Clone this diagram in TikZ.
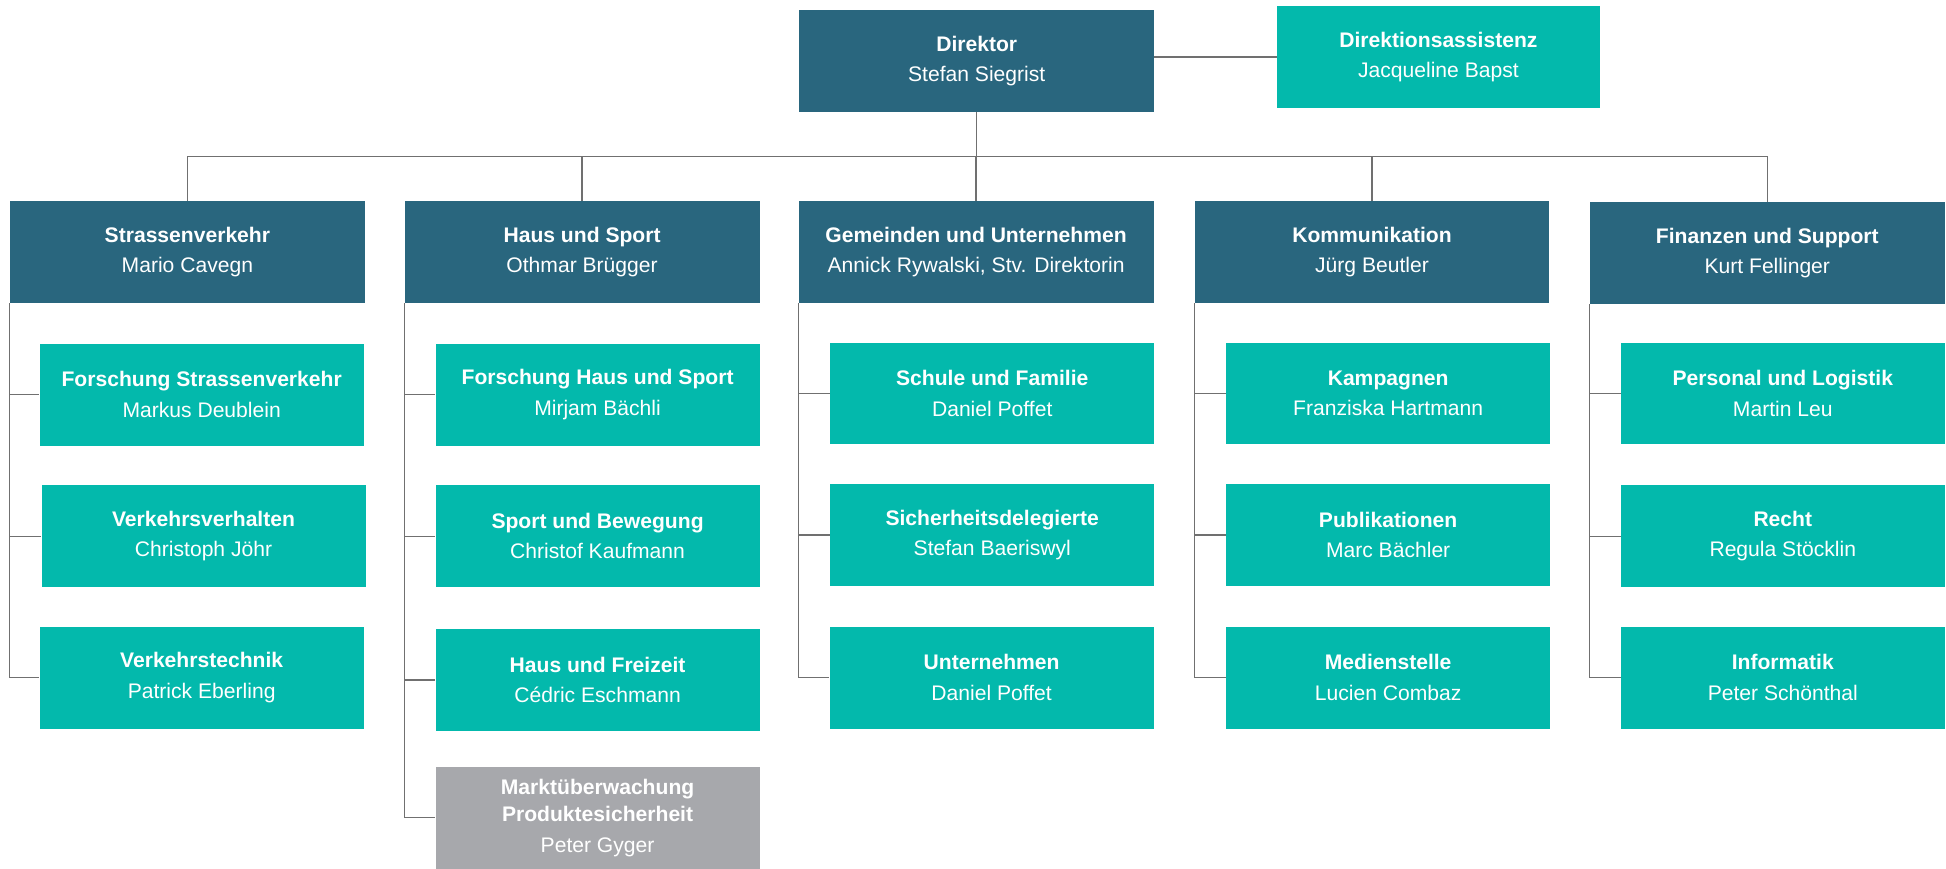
\documentclass[tikz,border=0pt]{standalone}
\usepackage{fontspec}
\setmainfont{Liberation Sans}
\definecolor{bfudark}{RGB}{41,102,126}
\definecolor{bfuteal}{RGB}{3,185,172}
\definecolor{bfugrey}{RGB}{167,168,172}
\definecolor{bfuline}{RGB}{112,112,112}
\begin{document}
\begin{tikzpicture}[x=1pt, y=-1pt,
  unit/.style={rectangle, inner sep=0pt, text=white, align=center, minimum height=82pt, font=\fontsize{17}{24.5}\selectfont},
  head/.style={unit, fill=bfudark, minimum width=286pt},
  sub/.style={unit, fill=bfuteal, minimum width=261pt},
  inactive/.style={sub, fill=bfugrey, font=\fontsize{17}{22}\selectfont},
  link/.style={draw=bfuline, line width=1pt}]
\useasboundingbox (0,0) rectangle (1568,700);
\node[head] (dir) at (787,49) {\textbf{Direktor}\\Stefan Siegrist};
\node[sub, minimum width=260pt] (ass) at (1159,46) {\textbf{Direktionsassistenz}\\Jacqueline Bapst};
\draw[link] (dir.east |- ass.west) -- (ass.west);
\coordinate (bus) at (787,126);

\node[head] (h1) at (151,203) {\textbf{Strassenverkehr}\\Mario Cavegn};
\node[head] (h2) at (469,203) {\textbf{Haus und Sport}\\Othmar Brügger};
\node[head] (h3) at (786.5,203) {\textbf{Gemeinden und Unternehmen}\\Annick Rywalski, Stv. Direktorin};
\node[head] (h4) at (1105.5,203) {\textbf{Kommunikation}\\Jürg Beutler};
\node[head] (h5) at (1424,204) {\textbf{Finanzen und Support}\\Kurt Fellinger};

\node[sub] (c11) at (162.5,318) {\textbf{Forschung Strassenverkehr}\\Markus Deublein};
\node[sub] (c12) at (164,432) {\textbf{Verkehrsverhalten}\\Christoph Jöhr};
\node[sub] (c13) at (162.5,546) {\textbf{Verkehrstechnik}\\Patrick Eberling};

\node[sub] (c21) at (481.5,318) {\textbf{Forschung Haus und Sport}\\Mirjam Bächli};
\node[sub] (c22) at (481.5,432) {\textbf{Sport und Bewegung}\\Christof Kaufmann};
\node[sub] (c23) at (481.5,548) {\textbf{Haus und Freizeit}\\Cédric Eschmann};
\node[inactive] (c24) at (481.5,659) {\textbf{Marktüberwachung}\\\textbf{Produktesicherheit}\\[3pt]Peter Gyger};

\node[sub] (c31) at (799.5,317) {\textbf{Schule und Familie}\\Daniel Poffet};
\node[sub] (c32) at (799.5,431) {\textbf{Sicherheitsdelegierte}\\Stefan Baeriswyl};
\node[sub] (c33) at (799,546) {\textbf{Unternehmen}\\Daniel Poffet};

\node[sub] (c41) at (1118.5,317) {\textbf{Kampagnen}\\Franziska Hartmann};
\node[sub] (c42) at (1118.5,431) {\textbf{Publikationen}\\Marc Bächler};
\node[sub] (c43) at (1118.5,546) {\textbf{Medienstelle}\\Lucien Combaz};

\node[sub] (c51) at (1436.5,317) {\textbf{Personal und Logistik}\\Martin Leu};
\node[sub] (c52) at (1436.5,432) {\textbf{Recht}\\Regula Stöcklin};
\node[sub] (c53) at (1436.5,546) {\textbf{Informatik}\\Peter Schönthal};

\draw[link] (dir.south) -- (bus);
\draw[link] (h1.north |- bus) -- (h5.north |- bus);
\draw[link] (h1.north |- bus) -- (h1.north);
\draw[link] (h2.north |- bus) -- (h2.north);
\draw[link] (h3.north |- bus) -- (h3.north);
\draw[link] (h4.north |- bus) -- (h4.north);
\draw[link] (h5.north |- bus) -- (h5.north);

\draw[link] (h1.south west) |- (c13.west);
\draw[link] (h1.south west |- c11.west) -- (c11.west);
\draw[link] (h1.south west |- c12.west) -- (c12.west);
\draw[link] (h2.south west) |- (c24.west);
\draw[link] (h2.south west |- c21.west) -- (c21.west);
\draw[link] (h2.south west |- c22.west) -- (c22.west);
\draw[link] (h2.south west |- c23.west) -- (c23.west);
\draw[link] (h3.south west) |- (c33.west);
\draw[link] (h3.south west |- c31.west) -- (c31.west);
\draw[link] (h3.south west |- c32.west) -- (c32.west);
\draw[link] (h4.south west) |- (c43.west);
\draw[link] (h4.south west |- c41.west) -- (c41.west);
\draw[link] (h4.south west |- c42.west) -- (c42.west);
\draw[link] (h5.south west) |- (c53.west);
\draw[link] (h5.south west |- c51.west) -- (c51.west);
\draw[link] (h5.south west |- c52.west) -- (c52.west);

\end{tikzpicture}
\end{document}
